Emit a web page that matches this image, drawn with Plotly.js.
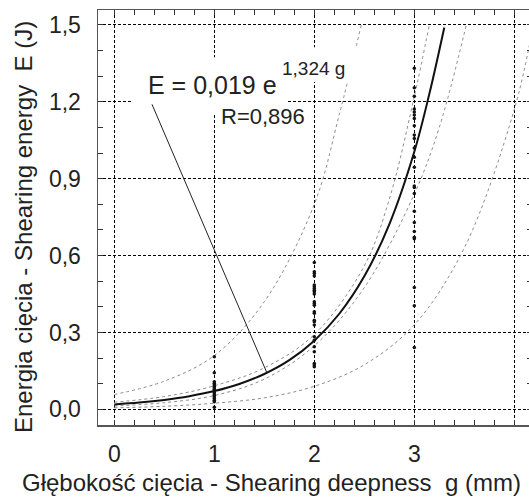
<!DOCTYPE html>
<html>
<head>
<meta charset="utf-8">
<script src="https://cdn.plot.ly/plotly-3.0.1.min.js"></script>
<style>
html,body{margin:0;padding:0;background:#fff;overflow:hidden;}
#chart{width:532px;height:497px;}
</style>
</head>
<body>
<div id="chart"></div>
<script>
// ---- data ----
const depthTicks = [0, 1, 2, 3, 4];
const depthLabels = ['0', '1', '2', '3', ''];
const energyTicks = [0, 0.3, 0.6, 0.9, 1.2, 1.5];
const energyLabels = ['0,0', '0,3', '0,6', '0,9', '1,2', '1,5'];

const energyAtDepth1 = [0.205, 0.143, 0.108, 0.102, 0.096, 0.090, 0.084, 0.078, 0.072, 0.066,
  0.060, 0.054, 0.048, 0.042, 0.036, 0.030, 0.008];
const energyAtDepth2 = [0.573, 0.537, 0.530, 0.520, 0.485, 0.478, 0.472, 0.465, 0.459, 0.450,
  0.420, 0.413, 0.406, 0.381, 0.375, 0.348, 0.342, 0.329, 0.283, 0.270, 0.244, 0.225,
  0.179, 0.173, 0.166];
const energyAtDepth3 = [1.331, 1.255, 1.222, 1.172, 1.160, 1.148, 1.135, 1.106, 1.070, 1.057,
  1.020, 0.984, 0.945, 0.871, 0.866, 0.842, 0.773, 0.729, 0.694, 0.671, 0.666, 0.475,
  0.404, 0.241];

const fitDepth = [0, 0.25, 0.5, 0.75, 1, 1.25, 1.5, 1.75, 2, 2.25, 2.5, 2.75, 3, 3.15, 3.3];
const fitEnergy = [0.019, 0.0264, 0.0368, 0.0512, 0.0713, 0.0992, 0.138, 0.192, 0.268, 0.373,
  0.519, 0.722, 1.005, 1.23, 1.49];

const confUpperDepth = [0, 0.5, 1, 1.5, 2, 2.5, 2.75, 3, 3.15];
const confUpperEnergy = [0.028, 0.050, 0.092, 0.162, 0.292, 0.56, 0.82, 1.22, 1.5];
const confLowerDepth = [0, 0.5, 1, 1.5, 2, 2.5, 3, 3.25, 3.52];
const confLowerEnergy = [0.013, 0.026, 0.054, 0.118, 0.248, 0.475, 0.84, 1.1, 1.5];
const predUpperDepth = [0, 0.5, 1, 1.5, 2, 2.25, 2.47];
const predUpperEnergy = [0.058, 0.11, 0.21, 0.42, 0.8, 1.15, 1.5];
const predLowerDepth = [0, 0.5, 1, 1.5, 2, 2.5, 3, 3.5, 4, 4.18];
const predLowerEnergy = [0.006, 0.012, 0.024, 0.045, 0.09, 0.174, 0.33, 0.63, 1.17, 1.48];

const equationMain = 'E = 0,019 e';
const equationExp = '1,324 g';
const corrText = 'R=0,896';
const xTitle = 'Głębokość cięcia - Shearing deepness  g (mm)';
const yTitle = 'Energia cięcia - Shearing energy  E (J)';

// ---- build traces ----
const FONT = 'Liberation Sans, Arial, sans-serif';
const bandLine = {color: '#8c8c8c', width: 1, dash: '3px,3px', shape: 'spline'};

const traces = [
  {x: predUpperDepth, y: predUpperEnergy, mode: 'lines', line: bandLine, hoverinfo: 'skip'},
  {x: predLowerDepth, y: predLowerEnergy, mode: 'lines', line: bandLine, hoverinfo: 'skip'},
  {x: confUpperDepth, y: confUpperEnergy, mode: 'lines', line: bandLine, hoverinfo: 'skip'},
  {x: confLowerDepth, y: confLowerEnergy, mode: 'lines', line: bandLine, hoverinfo: 'skip'},
  {x: fitDepth, y: fitEnergy, mode: 'lines', line: {color: '#111', width: 2, shape: 'spline'}},
  {
    x: [].concat(energyAtDepth1.map(() => 1), energyAtDepth2.map(() => 2), energyAtDepth3.map(() => 3)),
    y: [].concat(energyAtDepth1, energyAtDepth2, energyAtDepth3),
    mode: 'markers', marker: {color: '#111', size: 3.5}
  }
];

function axisBase() {
  return {
    tickmode: 'array', ticks: 'inside', ticklen: 5, tickcolor: '#333', tickwidth: 1,
    showline: true, linecolor: '#555', linewidth: 1.5, mirror: 'ticks',
    showgrid: true, gridcolor: '#000', gridwidth: 1, griddash: '3px,2px',
    zeroline: false, tickfont: {family: FONT, size: 23, color: '#222'},
    fixedrange: true
  };
}

const xaxis = Object.assign(axisBase(), {
  range: [-0.163, 4.177], tickvals: depthTicks, ticktext: depthLabels, ticklabelstandoff: 8,
  minor: {tickmode: 'linear', tick0: 0, dtick: 0.2, ticks: 'inside', ticklen: 5, tickcolor: '#333', showgrid: false}
});
const yaxis = Object.assign(axisBase(), {
  range: [-0.061, 1.558], tickvals: energyTicks, ticktext: energyLabels, ticklabelstandoff: 11,
  minor: {tickmode: 'linear', tick0: 0, dtick: 0.1, ticks: 'inside', ticklen: 5, tickcolor: '#333', showgrid: false}
});

const layout = {
  width: 532, height: 497,
  margin: {l: 98, r: 0, t: 10, b: 72, pad: 0},
  paper_bgcolor: '#fff', plot_bgcolor: '#fff',
  showlegend: false,
  xaxis: xaxis, yaxis: yaxis,
  font: {family: FONT, color: '#222'},
  shapes: [
    {type: 'rect', layer: 'above', xref: 'x', yref: 'y', x0: 0.177, x1: 1.727, y0: 1.148, y1: 1.374,
     fillcolor: '#fff', line: {width: 0}},
    {type: 'rect', layer: 'above', xref: 'x', yref: 'y', x0: 1.637, x1: 2.457, y0: 1.277, y1: 1.413,
     fillcolor: '#fff', line: {width: 0}},
    {type: 'line', layer: 'above', xref: 'x', yref: 'y', x0: 0.377, y0: 1.19, x1: 1.527, y1: 0.1416,
     line: {color: '#222', width: 1}}
  ],
  annotations: [
    {text: equationMain, xref: 'x', yref: 'y', x: 0.324, y: 1.266, xanchor: 'left', yanchor: 'middle',
     showarrow: false, borderpad: 0, font: {family: FONT, size: 25, color: '#222'}},
    {text: equationExp, xref: 'x', yref: 'y', x: 1.664, y: 1.331, xanchor: 'left', yanchor: 'middle',
     showarrow: false, borderpad: 0, font: {family: FONT, size: 19, color: '#222'}},
    {text: corrText, xref: 'x', yref: 'y', x: 1.057, y: 1.141, xanchor: 'left', yanchor: 'middle',
     showarrow: false, borderpad: 0, font: {family: FONT, size: 22, color: '#222'}},
    {text: xTitle, xref: 'paper', yref: 'paper', x: 0.4009, y: -0.139, xanchor: 'center', yanchor: 'middle',
     showarrow: false, borderpad: 0, font: {family: FONT, size: 24, color: '#222'}},
    {text: yTitle, xref: 'paper', yref: 'paper', x: -0.1728, y: 0.477, xanchor: 'center', yanchor: 'middle',
     textangle: -90, showarrow: false, borderpad: 0, font: {family: FONT, size: 24, color: '#222'}}
  ]
};

Plotly.newPlot('chart', traces, layout, {staticPlot: true, displayModeBar: false});
</script>
</body>
</html>
